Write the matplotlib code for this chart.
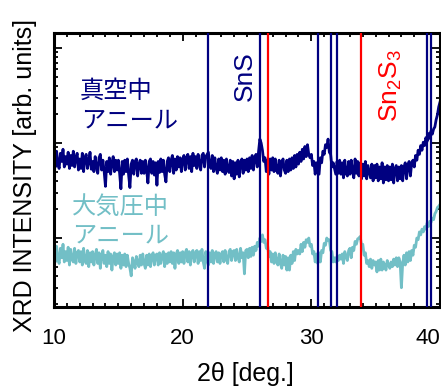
import numpy as np
import matplotlib
matplotlib.use('Agg')
import matplotlib.pyplot as plt
from matplotlib.ticker import MultipleLocator, LogLocator, NullFormatter

# 2theta grid (deg.), 0.1 deg step
two_theta = np.round(np.arange(10.0, 40.01, 0.1), 1)

# vacuum annealed film (counts)
vacuum = [
    760, 560, 820, 600, 540, 780, 640, 860, 560, 720,
    600, 800, 540, 740, 580, 820, 560, 700, 780, 520,
    680, 540, 780, 500, 700, 760, 540, 640, 800, 530,
    640, 500, 720, 560, 480, 700, 760, 520, 660, 500,
    350, 640, 500, 700, 470, 620, 720, 500, 660, 520,
    660, 480, 330, 640, 470, 660, 500, 680, 460, 340,
    600, 660, 470, 640, 680, 450, 600, 660, 480, 640,
    480, 660, 520, 380, 640, 680, 480, 640, 460, 620,
    360, 640, 490, 680, 500, 660, 470, 390, 640, 700,
    500, 660, 740, 480, 680, 520, 720, 560, 700, 500,
    680, 740, 520, 700, 760, 540, 720, 500, 780, 580,
    720, 540, 760, 600, 520, 740, 780, 560, 720, 760,
    800, 580, 540, 740, 500, 700, 540, 480, 680, 520,
    700, 500, 660, 470, 680, 520, 490, 660, 450, 640,
    420, 620, 470, 660, 440, 620, 680, 480, 660, 520,
    680, 500, 700, 540, 740, 520, 700, 760, 560, 820,
    1100, 1000, 840, 640, 700, 500, 660, 470, 680, 520,
    700, 500, 680, 520, 480, 660, 450, 620, 680, 520,
    480, 660, 500, 680, 520, 700, 540, 740, 560, 760,
    600, 800, 640, 860, 680, 920, 720, 960, 760, 700,
    760, 580, 640, 470, 620, 540, 470, 700, 620, 820,
    760, 960, 900, 1100, 800, 760, 560, 620, 540, 470,
    640, 480, 660, 470, 620, 430, 660, 480, 450, 640,
    470, 660, 500, 430, 680, 480, 640, 450, 620, 420,
    600, 450, 640, 420, 580, 500, 430, 600, 400, 580,
    430, 600, 400, 560, 420, 620, 380, 560, 410, 580,
    400, 560, 410, 600, 380, 540, 580, 400, 560, 420,
    580, 400, 560, 620, 420, 580, 640, 450, 620, 660,
    560, 740, 660, 840, 760, 940, 840, 1020, 940, 1140,
    1040, 1260, 1120, 1340, 1240, 1400, 1480, 1760, 1980, 2400,
    2700,
]

# atmospheric pressure annealed film (counts)
atmos = [
    76, 56, 82, 60, 54, 78, 62, 86, 56, 72,
    58, 80, 52, 76, 60, 56, 78, 54, 70, 74,
    56, 72, 52, 78, 58, 54, 74, 50, 70, 56,
    72, 52, 66, 76, 54, 70, 48, 66, 74, 54,
    66, 50, 72, 54, 68, 46, 64, 70, 52, 68,
    54, 70, 48, 66, 52, 68, 50, 66, 54, 48,
    40, 62, 56, 48, 64, 56, 50, 66, 52, 68,
    54, 48, 66, 52, 68, 50, 64, 70, 52, 66,
    68, 52, 70, 54, 66, 72, 50, 68, 54, 70,
    56, 72, 54, 70, 48, 68, 74, 54, 70, 56,
    72, 54, 70, 76, 56, 72, 52, 70, 74, 56,
    70, 74, 54, 72, 58, 76, 56, 48, 72, 58,
    52, 70, 56, 74, 54, 68, 72, 56, 70, 54,
    68, 72, 56, 74, 60, 54, 72, 76, 58, 72,
    74, 58, 76, 62, 56, 78, 62, 70, 42, 74,
    76, 62, 78, 64, 80, 66, 82, 74, 90, 82,
    100, 92, 108, 90, 96, 78, 84, 64, 72, 56,
    68, 54, 70, 56, 52, 68, 54, 48, 66, 52,
    64, 46, 62, 46, 66, 54, 72, 58, 76, 68,
    74, 68, 86, 72, 90, 80, 96, 90, 100, 82,
    86, 68, 72, 56, 68, 54, 70, 56, 74, 70,
    88, 84, 100, 94, 96, 74, 72, 56, 62, 56,
    64, 58, 66, 60, 68, 54, 72, 64, 58, 74,
    78, 62, 80, 74, 92, 86, 98, 100, 104, 84,
    86, 66, 70, 54, 58, 50, 60, 48, 58, 52,
    56, 44, 58, 46, 60, 46, 56, 52, 46, 58,
    52, 48, 56, 50, 60, 52, 62, 50, 62, 56,
    30, 54, 66, 52, 70, 56, 72, 58, 74, 66,
    84, 80, 100, 96, 116, 108, 124, 116, 132, 124,
    144, 132, 150, 146, 162, 156, 180, 190, 210, 216,
    226,
]

# reference peak positions (deg.)
sns_peaks = [22.0, 26.0, 30.5, 31.5, 32.0, 39.0, 39.3]
sn2s3_peaks = [26.6, 33.85]

navy = '#000080'
cyan = '#72bfc6'
red = '#ff0000'

plt.rcParams['font.family'] = ['Liberation Sans', 'DejaVu Sans']
plt.rcParams['mathtext.fontset'] = 'custom'
plt.rcParams['mathtext.rm'] = 'Liberation Sans'
jp = ['Noto Sans CJK JP', 'DejaVu Sans']

fig = plt.figure(figsize=(4.41, 3.87), dpi=100)
ax = fig.add_axes([54 / 441, 80 / 387, 386 / 441, 274 / 387])

ax.plot(two_theta, vacuum, color=navy, lw=2.0, zorder=2)
ax.plot(two_theta, atmos, color=cyan, lw=2.0, zorder=2)

for p in sns_peaks:
    ax.axvline(p, color=navy, lw=1.6, zorder=3)
for p in sn2s3_peaks:
    ax.axvline(p, color=red, lw=1.6, zorder=3)

ax.set_yscale('log')
ax.set_xlim(10, 40)
ax.set_ylim(18.8, 14400)

ax.set_xticks([10, 20, 30, 40])
ax.xaxis.set_minor_locator(MultipleLocator(1))
ax.yaxis.set_major_locator(LogLocator(base=10))
ax.yaxis.set_minor_locator(LogLocator(base=10, subs=np.arange(2, 10)))
ax.yaxis.set_major_formatter(NullFormatter())
ax.yaxis.set_minor_formatter(NullFormatter())

ax.tick_params(which='both', direction='in', top=True, right=True, width=1.3)
ax.tick_params(which='major', length=6)
ax.tick_params(which='minor', length=3)
ax.tick_params(axis='x', labelsize=16, pad=15)
for lbl in ax.get_xticklabels():
    if lbl.get_text() == '40':
        lbl.set_ha('right')
for s in ax.spines.values():
    s.set_linewidth(2.2)

ax.set_xlabel('2θ [deg.]', fontsize=18)
ax.xaxis.set_label_coords(0.497, -0.2)
ax.set_ylabel('XRD INTENSITY [arb. units]', fontsize=18)
ax.yaxis.set_label_coords(-0.045, 0.48)

ax.text(0.067, 0.788, '真空中', color=navy, fontsize=17.5, family=jp,
        ha='left', va='center', transform=ax.transAxes)
ax.text(0.07, 0.682, 'アニール', color=navy, fontsize=17.5, family=jp,
        ha='left', va='center', transform=ax.transAxes)
ax.text(0.047, 0.365, '大気圧中', color=cyan, fontsize=17.5, family=jp,
        ha='left', va='center', transform=ax.transAxes)
ax.text(0.047, 0.263, 'アニール', color=cyan, fontsize=17.5, family=jp,
        ha='left', va='center', transform=ax.transAxes)

ax.text(0.495, 0.841, 'SnS', color=navy, fontsize=19, rotation=90,
        ha='center', va='center', transform=ax.transAxes)
ax.text(0.873, 0.81, r'Sn$_\mathregular{2}$S$_\mathregular{3}$', color=red,
        fontsize=19, rotation=90, ha='center', va='center', transform=ax.transAxes)

fig.savefig('out.png', dpi=100)
